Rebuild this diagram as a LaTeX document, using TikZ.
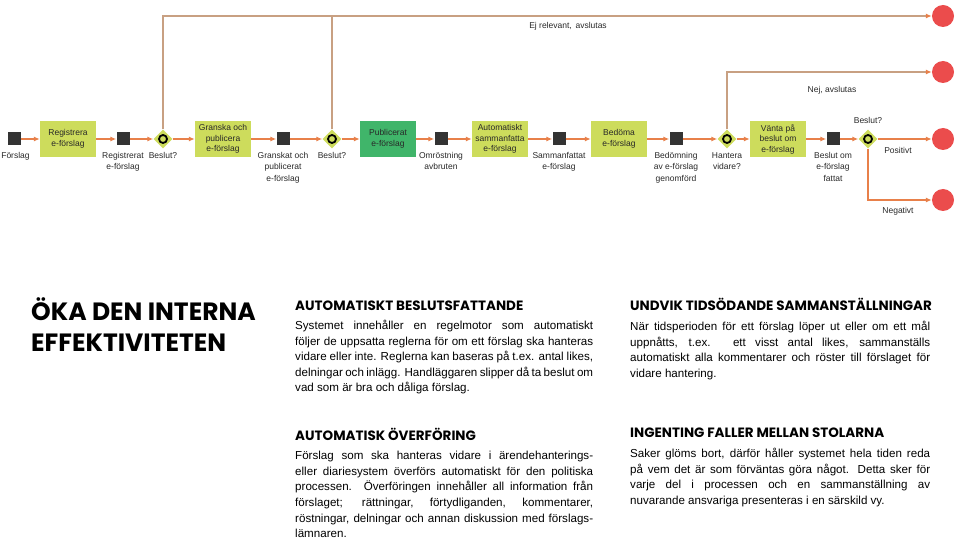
\documentclass[tikz,border=0pt]{standalone}
\usepackage{fontspec}
\setmainfont{Liberation Sans}
\newfontfamily\headfont{Poppins}
\usetikzlibrary{arrows.meta,shapes.geometric}
\definecolor{boxgreen}{RGB}{205,220,92}
\definecolor{pubgreen}{RGB}{64,181,106}
\definecolor{sqdark}{RGB}{51,51,51}
\definecolor{endred}{RGB}{235,76,76}
\definecolor{flow}{RGB}{232,128,74}
\definecolor{tanline}{RGB}{200,160,130}
\definecolor{txt}{RGB}{40,40,40}
\begin{document}
\begin{tikzpicture}[x=1pt,y=-1pt,
  taskbox/.style={fill=boxgreen, minimum width=56pt, minimum height=36pt, inner sep=1pt, align=center, text=txt, font=\fontsize{8.5}{10.5}\selectfont},
  pubbox/.style={taskbox, fill=pubgreen},
  evsq/.style={fill=sqdark, minimum size=13pt, inner sep=0pt},
  gatew/.style={diamond, fill=boxgreen, minimum width=19pt, minimum height=19pt, inner sep=0pt,
    path picture={\draw[line width=1.8pt, black] (path picture bounding box.center) circle (4pt);}},
  endcirc/.style={circle, fill=endred, minimum size=22pt, inner sep=0pt},
  lab/.style={font=\fontsize{8.5}{11.5}\selectfont, align=center, text=txt, inner sep=0pt},
  farrow/.style={draw=flow, line width=1.3pt, -{Latex[length=6pt,width=5pt]}},
  barrow/.style={draw=tanline, line width=1.2pt},
  bhead/.style={barrow, -{Latex[length=6pt,width=5pt,color=flow]}},
  para/.style={anchor=north west, inner sep=0pt, text width=298pt, align=justify, font=\fontsize{11.6}{15.6}\selectfont},
  heading/.style={anchor=base west, inner sep=0pt, font=\headfont\bfseries\fontsize{13.5}{16}\selectfont},
]
\useasboundingbox (0,0) rectangle (959,540);

% flow nodes
\node[evsq] (s0) at (14,139) {};
\node[taskbox] (t1) at (68,139) {Registrera\\e-förslag};
\node[evsq] (s1) at (123,139) {};
\node[gatew] (g1) at (163,139) {};
\node[taskbox] (t2) at (223,139) {Granska och\\publicera\\e-förslag};
\node[evsq] (s2) at (283,139) {};
\node[gatew] (g2) at (332,139) {};
\node[pubbox] (t3) at (388,139) {Publicerat\\e-förslag};
\node[evsq] (s3) at (441,139) {};
\node[taskbox] (t4) at (500,139) {Automatiskt\\sammanfatta\\e-förslag};
\node[evsq] (s4) at (559,139) {};
\node[taskbox] (t5) at (619,139) {Bedöma\\e-förslag};
\node[evsq] (s5) at (676,139) {};
\node[gatew] (g3) at (727,139) {};
\node[taskbox] (t6) at (778,139) {Vänta på\\beslut om\\e-förslag};
\node[evsq] (s6) at (833,139) {};
\node[gatew] (g4) at (868,139) {};
\node[endcirc] (e1) at (943,16) {};
\node[endcirc] (e2) at (943,72) {};
\node[endcirc] (e3) at (943,139) {};
\node[endcirc] (e4) at (943,200) {};

% labels
\node[lab, anchor=north] (l0) at (15.5,152) {Förslag};
\node[lab, anchor=north] (l1) at (123,152) {Registrerat\\e-förslag};
\node[lab, anchor=north] (l2) at (163,152) {Beslut?};
\node[lab, anchor=north] (l3) at (283,152) {Granskat och\\publicerat\\e-förslag};
\node[lab, anchor=north] (l4) at (332,152) {Beslut?};
\node[lab, anchor=north] (l5) at (441,152) {Omröstning\\avbruten};
\node[lab, anchor=north] (l6) at (559,152) {Sammanfattat\\e-förslag};
\node[lab, anchor=north] (l7) at (676,152) {Bedömning\\av e-förslag\\genomförd};
\node[lab, anchor=north] (l8) at (727,152) {Hantera\\vidare?};
\node[lab, anchor=north] (l9) at (833,152) {Beslut om\\e-förslag\\fattat};
\node[lab] (l10) at (868,120) {Beslut?};
\node[lab] (l11) at (898,150) {Positivt};
\node[lab] (l12) at (898,211) {Negativt};
\node[lab] (l13) at (568,26) {Ej relevant,\, avslutas};
\node[lab] (l14) at (832,90) {Nej, avslutas};

% main flow
\draw[farrow] (s0) -- (t1);
\draw[farrow] (t1) -- (s1);
\draw[farrow] (s1) -- (g1);
\draw[farrow] (g1) -- (t2);
\draw[farrow] (t2) -- (s2);
\draw[farrow] (s2) -- (g2);
\draw[farrow] (g2) -- (t3);
\draw[farrow] (t3) -- (s3);
\draw[farrow] (s3) -- (t4);
\draw[farrow] (t4) -- (s4);
\draw[farrow] (s4) -- (t5);
\draw[farrow] (t5) -- (s5);
\draw[farrow] (s5) -- (g3);
\draw[farrow] (g3) -- (t6);
\draw[farrow] (t6) -- (s6);
\draw[farrow] (s6) -- (g4);
\draw[farrow] (g4) -- (e3);
\draw[farrow] (g4.south) |- (e4);

% exit lines
\draw[bhead] (g1.north) |- (e1);
\draw[barrow] (g2.north) -- (g2.north |- e1);
\draw[bhead] (g3.north) |- (e2);

% text sections
\node[anchor=north west, inner sep=0pt, align=left, font=\headfont\bfseries\fontsize{25}{31}\selectfont] (title) at (31,297) {ÖKA DEN INTERNA\\EFFEKTIVITETEN};

\node[heading] (h1) at (295,310) {AUTOMATISKT BESLUTSFATTANDE};
\node[para] (p1) at (295,320) {Systemet innehåller en regelmotor som automatiskt\linebreak
följer de uppsatta reglerna för om ett förslag ska hanteras\linebreak
vidare eller inte. Reglerna kan baseras på t.ex. antal likes,\linebreak
delningar och inlägg. Handläggaren slipper då ta beslut om\linebreak
vad som är bra och dåliga förslag.};

\node[heading] (h2) at (630,311) {UNDVIK TIDSÖDANDE SAMMANSTÄLLNINGAR};
\node[para, text width=300pt] (p2) at (630,321) {När tidsperioden för ett förslag löper ut eller om ett mål\linebreak
uppnåtts, t.ex. ett visst antal likes, sammanställs\linebreak
automatiskt alla kommentarer och röster till förslaget för\linebreak
vidare hantering.};

\node[heading] (h3) at (295,440) {AUTOMATISK ÖVERFÖRING};
\node[para] (p3) at (295,451) {Förslag som ska hanteras vidare i ärendehanterings-\linebreak
eller diariesystem överförs automatiskt för den politiska\linebreak
processen. Överföringen innehåller all information från\linebreak
förslaget; rättningar, förtydliganden, kommentarer,\linebreak
röstningar, delningar och annan diskussion med förslags-\linebreak
lämnaren.};

\node[heading] (h4) at (630,437) {INGENTING FALLER MELLAN STOLARNA};
\node[para, text width=300pt] (p4) at (630,448) {Saker glöms bort, därför håller systemet hela tiden reda\linebreak
på vem det är som förväntas göra något. Detta sker för\linebreak
varje del i processen och en sammanställning av\linebreak
nuvarande ansvariga presenteras i en särskild vy.};
\end{tikzpicture}
\end{document}
